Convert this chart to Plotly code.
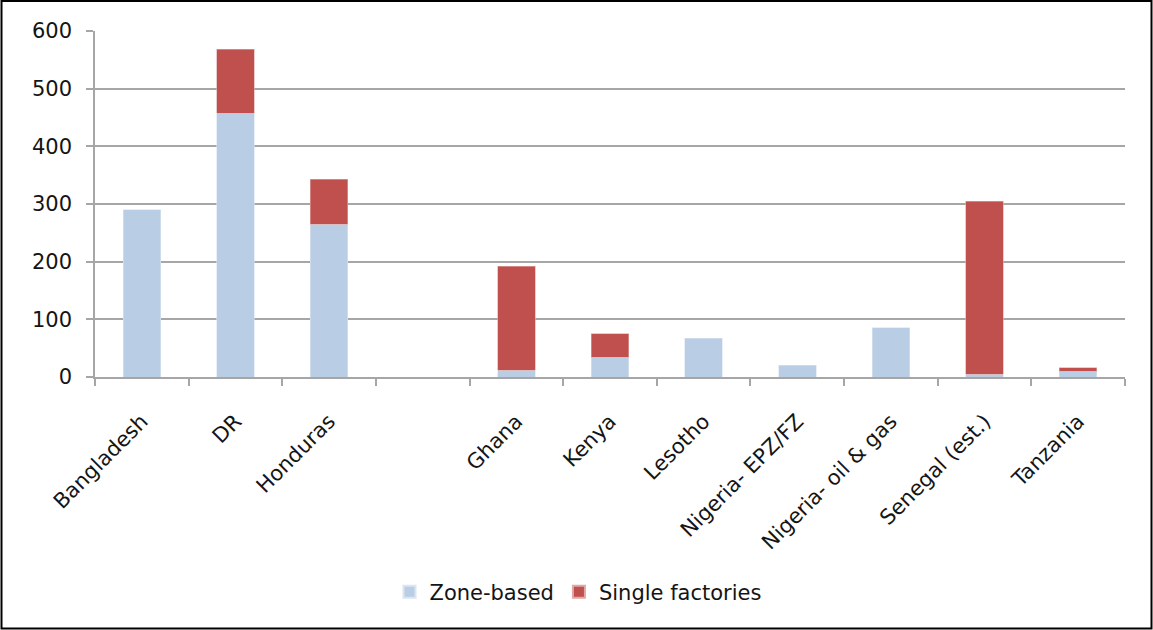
import plotly.graph_objects as go

# Employment by location type (thousands), one blank slot separates the two groups
countries = ["Bangladesh", "DR", "Honduras", " ", "Ghana", "Kenya", "Lesotho",
             "Nigeria- EPZ/FZ", "Nigeria- oil & gas", "Senegal (est.)", "Tanzania"]
zone_based = [290, 457, 265, None, 12, 34, 67, 20, 85, 5, 10]
single_factories = [None, 111, 78, None, 180, 41, None, None, None, 300, 6]

y_ticks = [0, 100, 200, 300, 400, 500, 600]

FONT = "DejaVu Sans"
GRID = "#a6a6a6"
TEXT = "#141414"

fig = go.Figure()
fig.add_trace(go.Bar(
    x=countries, y=zone_based, name="Zone-based",
    marker=dict(color="#b9cde5", line=dict(color="#dbe5f1", width=0.6)),
))
fig.add_trace(go.Bar(
    x=countries, y=single_factories, name="Single factories",
    marker=dict(color="#c0504d", line=dict(color="#e0a8a6", width=0.6)),
))

# plot area: x 95..1125, y 31..377 (pixels)
L, R, T, B = 95, 1125, 31, 377
W, H = 1153, 630
pw, ph = R - L, B - T

def px_x(p):
    return (p - L) / pw

def px_y(p):
    return (B - p) / ph

fig.update_layout(
    width=W, height=H,
    margin=dict(l=L, r=W - R, t=T, b=H - B),
    barmode="stack",
    bargap=0.6,
    plot_bgcolor="white",
    paper_bgcolor="white",
    font=dict(family=FONT, color=TEXT),
    showlegend=True,
    legend=dict(
        orientation="h",
        x=px_x(578), xanchor="center",
        y=px_y(592), yanchor="middle",
        font=dict(size=21, family=FONT, color=TEXT),
        itemsizing="constant",
        traceorder="normal",
    ),
    xaxis=dict(
        type="category",
        categoryorder="array", categoryarray=countries,
        tickangle=-45,
        tickfont=dict(size=21, family=FONT, color=TEXT),
        ticklabelstandoff=22,
        showline=True, linecolor=GRID, linewidth=1.5,
        ticks="outside", tickson="boundaries", ticklen=7,
        tickcolor=GRID, tickwidth=1.5,
        showgrid=False,
    ),
    yaxis=dict(
        range=[0, 600],
        tickvals=y_ticks,
        tickfont=dict(size=21, family=FONT, color=TEXT),
        ticklabelstandoff=10,
        showline=True, linecolor=GRID, linewidth=1.5,
        ticks="outside", ticklen=7, tickcolor=GRID, tickwidth=1.5,
        showgrid=True, gridcolor=GRID, gridwidth=1.5,
        zeroline=False,
    ),
    shapes=[dict(
        type="rect", xref="paper", yref="paper",
        x0=px_x(1.5), x1=px_x(1151.5), y0=px_y(1), y1=px_y(628.5),
        line=dict(color="#000000", width=2),
        fillcolor="rgba(0,0,0,0)",
        layer="above",
    )],
)

fig.write_html("out.html")
